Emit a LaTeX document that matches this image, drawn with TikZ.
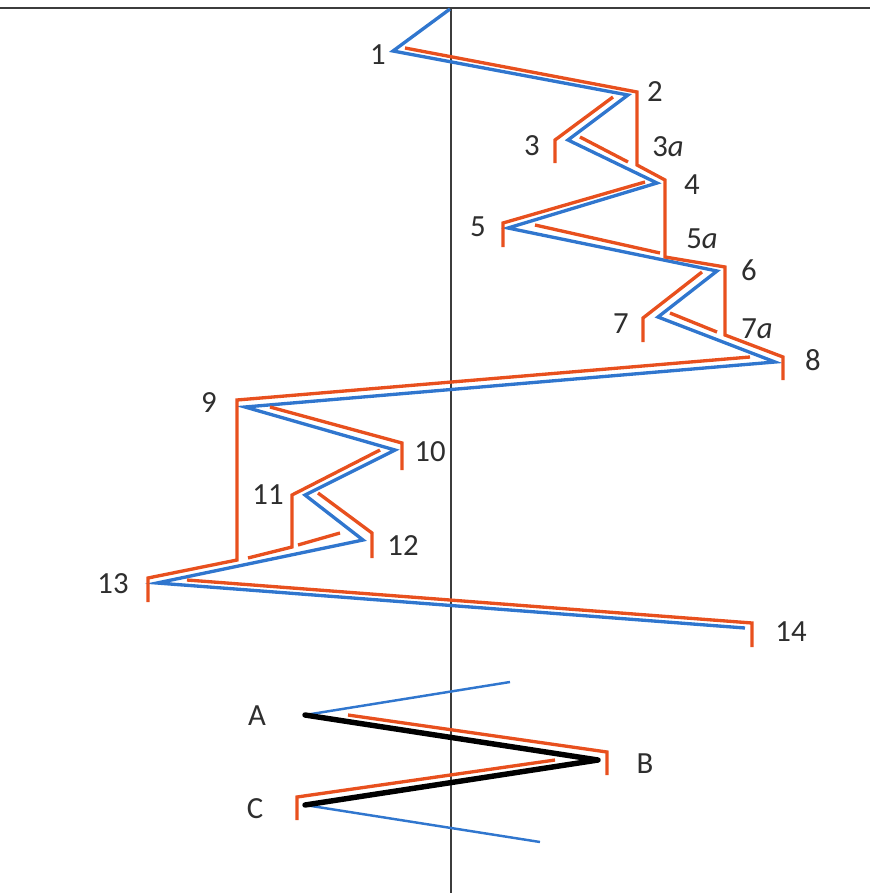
\documentclass[tikz,border=0pt]{standalone}
\usepackage{fontspec}
\setmainfont{Carlito}
\definecolor{rd}{RGB}{232,80,30}
\definecolor{bl}{RGB}{48,118,206}
\definecolor{ax}{RGB}{60,60,60}
\begin{document}
\begin{tikzpicture}[x=0.02cm,y=-0.02cm,
  redline/.style={draw=rd,line width=1.9pt,line join=miter},
  blueline/.style={draw=bl,line width=1.9pt,line join=miter},
  blackline/.style={draw=black,line width=3.1pt,line cap=round,line join=round},
  axisline/.style={draw=ax,line width=0.9pt},
  lbl/.style={font=\fontsize{17.5}{20}\selectfont,text=black!82,inner sep=0pt}]
\useasboundingbox (0,0) rectangle (883,893);
% axes
\coordinate (hl) at (0,8); \coordinate (hr) at (870,8);
\coordinate (vt) at (451,8); \coordinate (vb) at (451,893);
\draw[axisline] (hl) -- (hr);
\draw[axisline] (vt) -- (vb);
% blue path
\coordinate (b0) at (450,9);
\coordinate (b1) at (393,51);
\coordinate (b2) at (628,95);
\coordinate (b3) at (568,140);
\coordinate (b4) at (657,183);
\coordinate (b5) at (508,228);
\coordinate (b6) at (717,271);
\coordinate (b7) at (658,317);
\coordinate (b8) at (775,362);
\coordinate (b9) at (245,407);
\coordinate (b10) at (395,450);
\coordinate (b11) at (305,495);
\coordinate (b12) at (363,540);
\coordinate (b13) at (157,583);
\coordinate (b14) at (745,628);
\draw[blueline] (b0) -- (b1) -- (b2) -- (b3) -- (b4) -- (b5) -- (b6) -- (b7) -- (b8)
  -- (b9) -- (b10) -- (b11) -- (b12) -- (b13) -- (b14);
% red main path
\coordinate (r1) at (405,48);
\coordinate (r2) at (637,92);
\coordinate (r2b) at (637,165);
\coordinate (r4) at (665,180);
\coordinate (r4b) at (665,257);
\coordinate (r6) at (725,267);
\coordinate (r6b) at (725,335);
\coordinate (r8) at (783,357);
\coordinate (r8b) at (783,380);
\draw[redline] (r1) -- (r2) -- (r2b) -- (r4) -- (r4b) -- (r6) -- (r6b) -- (r8) -- (r8b);
% red branches top
\coordinate (r3s) at (613,97); \coordinate (r3) at (555,140); \coordinate (r3b) at (555,163);
\draw[redline] (r3s) -- (r3) -- (r3b);
\coordinate (r3as) at (580,137); \coordinate (r3ae) at (628,162);
\draw[redline] (r3as) -- (r3ae);
\coordinate (r5s) at (645,182); \coordinate (r5) at (503,223); \coordinate (r5b) at (503,247);
\draw[redline] (r5s) -- (r5) -- (r5b);
\coordinate (r5as) at (535,225); \coordinate (r5ae) at (660,253);
\draw[redline] (r5as) -- (r5ae);
\coordinate (r7s) at (702,272); \coordinate (r7) at (643,318); \coordinate (r7b) at (643,342);
\draw[redline] (r7s) -- (r7) -- (r7b);
\coordinate (r7as) at (670,313); \coordinate (r7ae) at (717,332);
\draw[redline] (r7as) -- (r7ae);
% red lower
\coordinate (r9s) at (750,357); \coordinate (r9) at (237,400); \coordinate (r9b) at (237,560);
\coordinate (r13) at (148,578); \coordinate (r13b) at (148,602);
\draw[redline] (r9s) -- (r9) -- (r9b) -- (r13) -- (r13b);
\coordinate (r10s) at (270,407); \coordinate (r10) at (402,443); \coordinate (r10b) at (402,470);
\draw[redline] (r10s) -- (r10) -- (r10b);
\coordinate (r11s) at (380,450); \coordinate (r11) at (292,495); \coordinate (r11b) at (292,547);
\coordinate (r11e) at (248,558);
\draw[redline] (r11s) -- (r11) -- (r11b) -- (r11e);
\coordinate (rps) at (298,545); \coordinate (rpe) at (340,533);
\draw[redline] (rps) -- (rpe);
\coordinate (r12s) at (318,493); \coordinate (r12) at (372,533); \coordinate (r12b) at (372,558);
\draw[redline] (r12s) -- (r12) -- (r12b);
\coordinate (r14s) at (187,580); \coordinate (r14) at (752,623); \coordinate (r14b) at (752,647);
\draw[redline] (r14s) -- (r14) -- (r14b);
% bottom ABC
\coordinate (ba) at (510,682); \coordinate (A) at (305,715);
\coordinate (B) at (598,760); \coordinate (C) at (305,805); \coordinate (bc) at (540,842);
\draw[blueline,line width=1.4pt] (ba) -- (A);
\draw[blueline,line width=1.4pt] (C) -- (bc);
\coordinate (rbs) at (348,715); \coordinate (rb) at (607,752); \coordinate (rbb) at (607,775);
\draw[redline] (rbs) -- (rb) -- (rbb);
\coordinate (rcs) at (555,760); \coordinate (rc) at (297,797); \coordinate (rcb) at (297,820);
\draw[redline] (rcs) -- (rc) -- (rcb);
\draw[blackline] (A) -- (B) -- (C);
% labels
\node[lbl] (l1) at (378,55) {1};
\node[lbl] (l2) at (655,92) {2};
\node[lbl] (l3) at (532,146) {3};
\node[lbl] (l3a) at (668,147) {3\textit{a}};
\node[lbl] (l4) at (692,185) {4};
\node[lbl] (l5) at (478,227) {5};
\node[lbl] (l5a) at (702,239) {5\textit{a}};
\node[lbl] (l6) at (749,270) {6};
\node[lbl] (l7) at (621,324) {7};
\node[lbl] (l7a) at (757,329) {7\textit{a}};
\node[lbl] (l8) at (813,360) {8};
\node[lbl] (l9) at (209,403) {9};
\node[lbl] (l10) at (430,452) {10};
\node[lbl] (l11) at (268,495) {11};
\node[lbl] (l12) at (403,546) {12};
\node[lbl] (l13) at (113,584) {13};
\node[lbl] (l14) at (791,632) {14};
\node[lbl] (lA) at (257,716) {A};
\node[lbl] (lB) at (645,764) {B};
\node[lbl] (lC) at (255,809) {C};
\end{tikzpicture}
\end{document}
